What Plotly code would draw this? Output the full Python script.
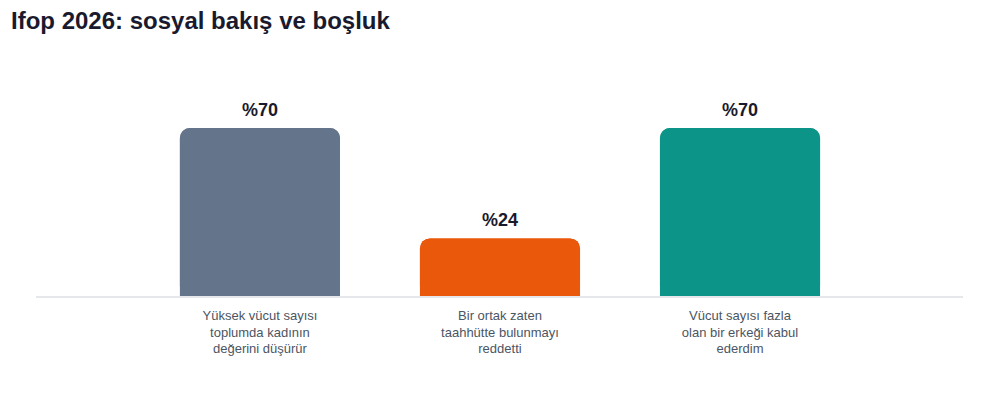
import plotly.graph_objects as go

title_text = "Ifop 2026: sosyal bakış ve boşluk"
categories = ["Yüksek vücut sayısı<br>toplumda kadının<br>değerini düşürür",
              "Bir ortak zaten<br>taahhütte bulunmayı<br>reddetti",
              "Vücut sayısı fazla<br>olan bir erkeği kabul<br>ederdim"]
values = [70, 24, 70]
colors = ["#64748b", "#ea580c", "#0d9488"]
labels = ["%" + str(v) for v in values]

xs = list(range(len(categories)))
FONT = "Liberation Sans, Arial, sans-serif"

W, H = 984, 392
ML, MR, MT, MB = 28, 29, 48, 104
PW, PH = W - ML - MR, H - MT - MB

fig = go.Figure()
# bottom-rounded half (drawn downward from value to 0)
fig.add_trace(go.Bar(x=xs, y=[-v for v in values], base=values, width=0.667,
                     marker=dict(color=colors, cornerradius=10, line=dict(width=0)),
                     hoverinfo="skip", showlegend=False))
# top-rounded bar
fig.add_trace(go.Bar(x=xs, y=values, width=0.667,
                     marker=dict(color=colors, cornerradius=10, line=dict(width=0)),
                     showlegend=False))

for x, v, t in zip(xs, values, labels):
    fig.add_annotation(x=x, y=v, text="<b>" + t + "</b>", showarrow=False,
                       yanchor="bottom", yshift=6,
                       font=dict(size=18, color="#1a1a2e", family=FONT))

# title as a paper-anchored annotation
fig.add_annotation(xref="paper", yref="paper", x=(1 - ML) / PW, y=1 + (MT - 12) / PH,
                   xanchor="left", yanchor="middle", showarrow=False,
                   text="<b>" + title_text + "</b>",
                   font=dict(size=24, color="#1a1a2e", family=FONT))

fig.update_layout(
    width=W, height=H,
    barmode="overlay",
    plot_bgcolor="white", paper_bgcolor="white",
    margin=dict(l=ML, r=MR, t=MT, b=MB),
    xaxis=dict(tickmode="array", tickvals=xs, ticktext=categories, range=[-0.933, 2.929],
               showline=True, linecolor="#e5e7eb", linewidth=2, showgrid=False, zeroline=False,
               ticks="", ticklabelstandoff=6,
               tickfont=dict(size=13, color="#4b5563", family=FONT)),
    yaxis=dict(range=[0, 100], visible=False, showgrid=False, zeroline=False),
)

fig.write_html("out.html")
